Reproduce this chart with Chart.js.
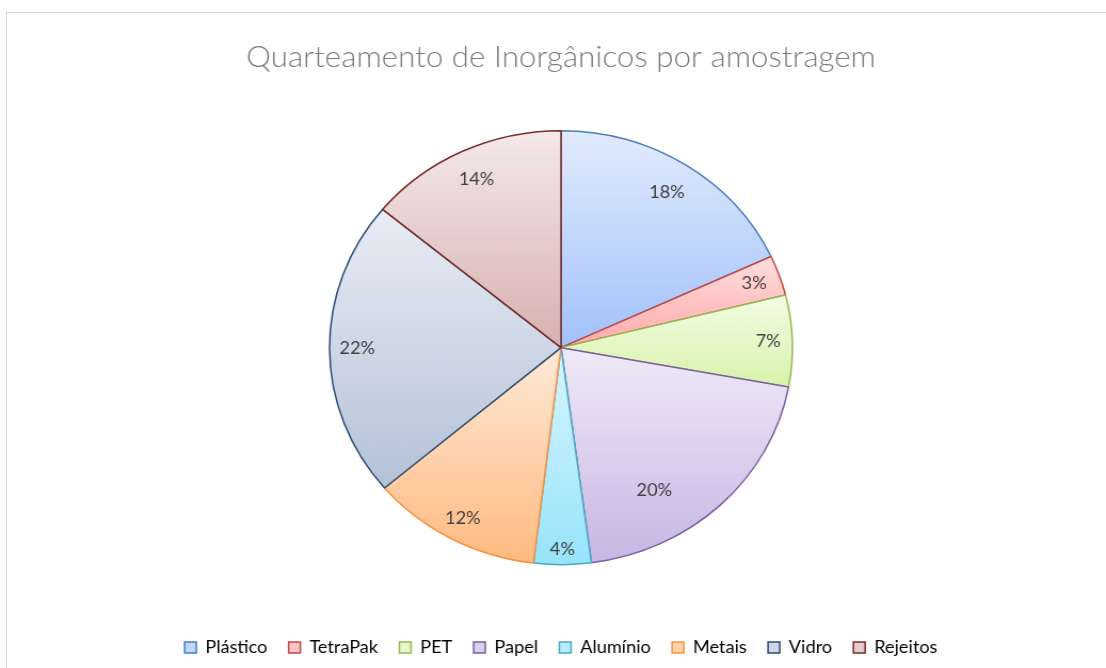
<!DOCTYPE html>
<html>
<head>
<meta charset="utf-8">
<script src="https://cdn.jsdelivr.net/npm/chart.js@4/dist/chart.umd.min.js"></script>
<style>
  html, body { margin: 0; padding: 0; background: #fff; }
  body { width: 1106px; height: 668px; overflow: hidden; position: relative; }
  #frame { position: absolute; left: 6px; top: 12px; width: 1200px; height: 800px; border: 1.5px solid #d9d9d9; }
  #wrap { position: absolute; left: 0; top: 0; width: 1037px; height: 668px; transform: scaleX(1.06654); transform-origin: 0 0; }
</style>
</head>
<body>
<div id="frame"></div>
<div id="wrap"><canvas id="chart"></canvas></div>
<script>
const categories = ['Plástico', 'TetraPak', 'PET', 'Papel', 'Alumínio', 'Metais', 'Vidro', 'Rejeitos'];
const shares = [18.1, 3.0, 6.8, 20.0, 4.0, 11.9, 22.2, 14.0];

const fillTop = ['#e1ebfd', '#ffdede', '#f2fde3', '#efeaf8', '#d9f6ff', '#ffe9d8', '#e8edf5', '#f4e9e9'];
const fillBottom = ['#a2c1fa', '#ffa9a9', '#d8f3ac', '#c8b5e3', '#97e3fa', '#ffba80', '#b4c1d7', '#d7b0af'];
const lineColors = ['#4a7ebb', '#be4b48', '#98b954', '#7d60a0', '#46aac5', '#f69240', '#2c4d75', '#772c2a'];

const RADIUS = 217;
// where each percent label sits: fraction of the radius, extra turn in degrees
const labelSpots = [[0.85, 0], [0.885, 0], [0.895, 0], [0.77, 12], [0.93, 0], [0.895, 0], [0.88, 0], [0.857, 0]];

function mix(a, b) {
  const pa = parseInt(a.slice(1), 16), pb = parseInt(b.slice(1), 16);
  const r = (((pa >> 16) & 255) + ((pb >> 16) & 255)) >> 1;
  const g = (((pa >> 8) & 255) + ((pb >> 8) & 255)) >> 1;
  const bl = ((pa & 255) + (pb & 255)) >> 1;
  return `rgb(${r},${g},${bl})`;
}

function sliceGradient(context) {
  const chart = context.chart;
  const i = context.dataIndex;
  const area = chart.chartArea;
  if (!area || i === undefined) return mix(fillTop[i || 0], fillBottom[i || 0]);
  const cx = (area.left + area.right) / 2;
  const cy = (area.top + area.bottom) / 2;
  const total = shares.reduce((s, v) => s + v, 0);
  let before = 0;
  for (let k = 0; k < i; k++) before += shares[k];
  const a0 = -Math.PI / 2 + 2 * Math.PI * before / total;
  const a1 = a0 + 2 * Math.PI * shares[i] / total;
  const ys = [cy, cy + RADIUS * Math.sin(a0), cy + RADIUS * Math.sin(a1)];
  if (a0 <= Math.PI / 2 && a1 >= Math.PI / 2) ys.push(cy + RADIUS);
  if (a0 <= -Math.PI / 2 + 1e-6 || a1 >= 1.5 * Math.PI - 1e-6) ys.push(cy - RADIUS);
  const g = chart.ctx.createLinearGradient(0, Math.min(...ys), 0, Math.max(...ys));
  g.addColorStop(0, fillTop[i]);
  g.addColorStop(1, fillBottom[i]);
  return g;
}

const percentLabels = {
  id: 'percentLabels',
  afterDatasetsDraw(chart) {
    const ctx = chart.ctx;
    const meta = chart.getDatasetMeta(0);
    const total = shares.reduce((s, v) => s + v, 0);
    ctx.save();
    ctx.font = '17px Lato';
    ctx.fillStyle = '#404040';
    ctx.textAlign = 'center';
    ctx.textBaseline = 'middle';
    meta.data.forEach((arc, i) => {
      const spot = labelSpots[i];
      const mid = (arc.startAngle + arc.endAngle) / 2 + spot[1] * Math.PI / 180;
      const r = arc.outerRadius * spot[0];
      const x = arc.x + Math.cos(mid) * r;
      const y = arc.y + Math.sin(mid) * r;
      ctx.fillText(Math.round(shares[i] / total * 100) + '%', x, y);
    });
    ctx.restore();
  }
};

new Chart(document.getElementById('chart'), {
  type: 'pie',
  data: {
    labels: categories,
    datasets: [{
      data: shares,
      backgroundColor: sliceGradient,
      borderColor: lineColors,
      borderWidth: 1.5,
      radius: RADIUS
    }]
  },
  options: {
    responsive: true,
    maintainAspectRatio: false,
    animation: false,
    layout: { padding: { left: 15, right: 0, top: 0, bottom: 2 } },
    plugins: {
      title: {
        display: true,
        text: 'Quarteamento de Inorgânicos por amostragem',
        color: '#7a7a7a',
        font: { family: 'Lato', size: 29.4, weight: 300 },
        padding: { top: 40, bottom: 1 }
      },
      legend: {
        position: 'bottom',
        labels: {
          boxWidth: 11,
          boxHeight: 11,
          padding: 20,
          color: '#595959',
          font: { family: 'Lato', size: 17 },
          generateLabels: () => categories.map((name, i) => ({
            text: name,
            fillStyle: mix(fillTop[i], fillBottom[i]),
            strokeStyle: lineColors[i],
            lineWidth: 1.5,
            index: i,
            hidden: false
          }))
        }
      },
      tooltip: { enabled: false }
    }
  },
  plugins: [percentLabels]
});
</script>
</body>
</html>
